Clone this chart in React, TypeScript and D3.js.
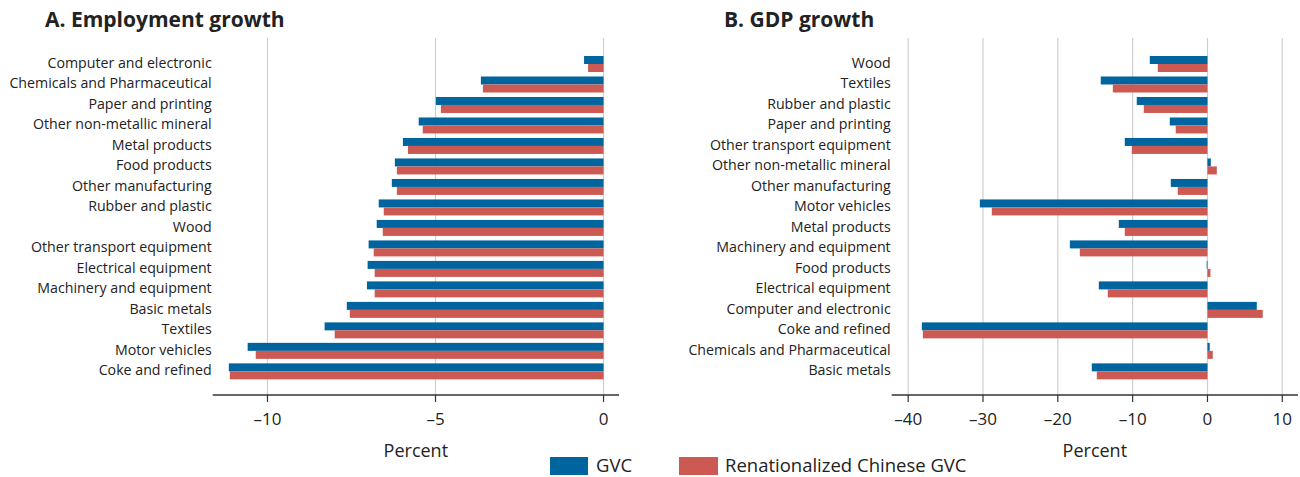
import React from "react";
import * as d3 from "d3";

const catsA = [
  "Computer and electronic",
  "Chemicals and Pharmaceutical",
  "Paper and printing",
  "Other non-metallic mineral",
  "Metal products",
  "Food products",
  "Other manufacturing",
  "Rubber and plastic",
  "Wood",
  "Other transport equipment",
  "Electrical equipment",
  "Machinery and equipment",
  "Basic metals",
  "Textiles",
  "Motor vehicles",
  "Coke and refined",
];
const gvcA = [-0.58, -3.65, -4.99, -5.5, -5.97, -6.21, -6.3, -6.69, -6.75, -6.99, -7.02, -7.04, -7.64, -8.3, -10.59, -11.15];
const renA = [-0.46, -3.59, -4.84, -5.38, -5.82, -6.15, -6.15, -6.54, -6.57, -6.84, -6.81, -6.81, -7.55, -8.0, -10.35, -11.12];

const catsB = [
  "Wood",
  "Textiles",
  "Rubber and plastic",
  "Paper and printing",
  "Other transport equipment",
  "Other non-metallic mineral",
  "Other manufacturing",
  "Motor vehicles",
  "Metal products",
  "Machinery and equipment",
  "Food products",
  "Electrical equipment",
  "Computer and electronic",
  "Coke and refined",
  "Chemicals and Pharmaceutical",
  "Basic metals",
];
const gvcB = [-7.71, -14.26, -9.45, -5.04, -11.05, 0.45, -4.9, -30.42, -11.85, -18.39, -0.1, -14.52, 6.59, -38.17, 0.3, -15.46];
const renB = [-6.64, -12.65, -8.51, -4.24, -10.11, 1.25, -3.97, -28.82, -11.05, -17.06, 0.4, -13.32, 7.39, -38.04, 0.71, -14.79];

const ticksA = [-10, -5, 0];
const ticksB = [-40, -30, -20, -10, 0, 10];

const seriesNames = ["GVC", "Renationalized Chinese GVC"];
const titles = ["A. Employment growth", "B. GDP growth"];

const BLUE = "#00659F";
const RED = "#CD5953";
const FONT = "'Open Sans', 'Noto Sans', sans-serif";

type PanelProps = {
  cats: string[];
  gvc: number[];
  ren: number[];
  ticks: number[];
  domain: [number, number];
  range: [number, number];
  title: string;
  titleX: number;
};

function Panel({ cats, gvc, ren, ticks, domain, range, title, titleX }: PanelProps) {
  const x = d3.scaleLinear().domain(domain).range(range);
  const y = d3
    .scaleBand<string>()
    .domain(cats)
    .range([53.75, 381.6])
    .paddingInner(0.22)
    .paddingOuter(0.11);
  const bw = y.bandwidth() / 2;
  const axisY = 395;
  const x0 = x(0);
  return (
    <g>
      <text x={titleX} y={27} fontFamily={FONT} fontWeight={700} fontSize={21} fill="#222">
        {title}
      </text>
      {ticks.map((t) => (
        <line key={"g" + t} x1={x(t)} x2={x(t)} y1={38} y2={axisY} stroke="#cfcfcf" strokeWidth={1.2} />
      ))}
      {cats.map((c, i) => {
        const yy = y(c) as number;
        const a = gvc[i];
        const b = ren[i];
        return (
          <g key={c}>
            <rect x={Math.min(x(a), x0)} width={Math.abs(x(a) - x0)} y={yy} height={bw} fill={BLUE} />
            <rect x={Math.min(x(b), x0)} width={Math.abs(x(b) - x0)} y={yy + bw} height={bw} fill={RED} />
            <text
              x={range[0] - 1}
              y={yy + bw - 1.5}
              textAnchor="end"
              dominantBaseline="central"
              fontFamily={FONT}
              fontSize={14.2}
              fill="#222"
            >
              {c}
            </text>
          </g>
        );
      })}
      <line x1={range[0]} x2={range[1]} y1={axisY} y2={axisY} stroke="#333" strokeWidth={1.4} />
      {ticks.map((t) => (
        <g key={"t" + t}>
          <line x1={x(t)} x2={x(t)} y1={axisY} y2={axisY + 7} stroke="#333" strokeWidth={1.2} />
          <text
            x={x(t)}
            y={418}
            textAnchor="middle"
            dominantBaseline="central"
            fontFamily={FONT}
            fontSize={17}
            fill="#222"
          >
            {t < 0 ? "\u2013" + Math.abs(t) : String(t)}
          </text>
        </g>
      ))}
      <text
        x={(range[0] + range[1]) / 2}
        y={450}
        textAnchor="middle"
        dominantBaseline="central"
        fontFamily={FONT}
        fontSize={18}
        fill="#222"
      >
        Percent
      </text>
    </g>
  );
}

export default function App() {
  return (
    <svg
      width={1300}
      height={477}
      style={{ position: "absolute", left: 0, top: 0, display: "block", background: "#fff" }}
    >
      <Panel
        cats={catsA}
        gvc={gvcA}
        ren={renA}
        ticks={ticksA}
        domain={[-11.63, 0.46]}
        range={[212.7, 619]}
        title={titles[0]}
        titleX={45}
      />
      <Panel
        cats={catsB}
        gvc={gvcB}
        ren={renB}
        ticks={ticksB}
        domain={[-42.2, 12.1]}
        range={[891.7, 1298]}
        title={titles[1]}
        titleX={724}
      />
      <g>
        <rect x={550} y={457} width={38} height={18} fill={BLUE} />
        <text x={596} y={464} dominantBaseline="central" fontFamily={FONT} fontSize={18.5} fill="#222">
          {seriesNames[0]}
        </text>
        <rect x={679} y={457} width={39} height={18} fill={RED} />
        <text x={725} y={464} dominantBaseline="central" fontFamily={FONT} fontSize={18.5} fill="#222">
          {seriesNames[1]}
        </text>
      </g>
    </svg>
  );
}
